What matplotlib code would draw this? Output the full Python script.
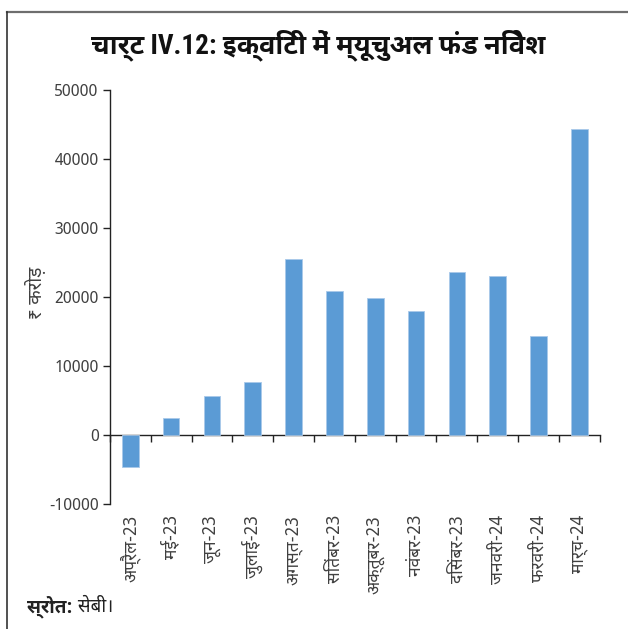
import matplotlib
matplotlib.use("Agg")
import matplotlib.pyplot as plt
from matplotlib.lines import Line2D

# data (₹ crore)
months = ["अप्रैल-23", "मई-23", "जून-23", "जुलाई-23", "अगस्त-23", "सितंबर-23",
          "अक्तूबर-23", "नवंबर-23", "दिसंबर-23", "जनवरी-24", "फरवरी-24", "मार्च-24"]
inflows = [-4600, 2400, 5650, 7650, 25500, 20850, 19850, 18000, 23600, 23050, 14300, 44300]
yticks = [-10000, 0, 10000, 20000, 30000, 40000, 50000]

title = "चार्ट IV.12: इक्विटी में म्यूचुअल फंड निवेश"
ylabel = "₹ करोड़"
source_bold = "स्रोत:"
source_rest = " सेबी।"

FONT = ["Noto Sans Devanagari", "Noto Sans", "DejaVu Sans"]
# Latin part of the title in a condensed bold, Devanagari falls through to the UI font
FONT_BOLD = ["Roboto Condensed", "Roboto", "Noto Sans Devanagari UI", "DejaVu Sans"]
plt.rcParams["font.family"] = FONT

BAR = "#5b9bd5"
TXT = "#404040"

fig = plt.figure(figsize=(6.28, 6.29), dpi=100)
ax = fig.add_axes([0.175, 0.199, 0.780, 0.658])

x = list(range(len(months)))
ax.bar(x, inflows, width=0.41, color=BAR, edgecolor="#a9c9ea", linewidth=0.6, zorder=3)

ax.set_xlim(-0.5, len(months) - 0.5)
ax.set_ylim(yticks[0], yticks[-1])
ax.set_yticks(yticks)
ax.set_yticklabels([str(v) for v in yticks])
ax.tick_params(axis="y", direction="out", length=5, width=1, color="#222222",
               labelsize=11.5, labelcolor=TXT, pad=3)

# category labels hang below the -10000 line
ax.set_xticks(x)
ax.set_xticklabels(months, rotation=90, fontsize=12.5, color=TXT)
ax.tick_params(axis="x", length=0, pad=8)

for s in ("top", "right", "bottom"):
    ax.spines[s].set_visible(False)
ax.spines["left"].set_color("#222222")
ax.spines["left"].set_linewidth(1)

# zero line with ticks between categories
zero_frac = (0 - yticks[0]) / (yticks[-1] - yticks[0])
sec = ax.secondary_xaxis(zero_frac)
sec.set_xticks([i - 0.5 for i in range(len(months) + 1)])
sec.tick_params(direction="out", length=5, width=1, color="#222222", labelbottom=False)
sec.spines["bottom"].set_color("#222222")
sec.spines["bottom"].set_linewidth(1)

ax.set_ylabel(ylabel, fontsize=13.5, color=TXT)
ax.yaxis.set_label_coords(-0.13, 0.51)

fig.text(0.506, 0.928, title, ha="center", va="center", fontsize=19.5,
         fontweight="bold", family=FONT_BOLD, color="#111111")

t1 = fig.text(0.043, 0.035, source_bold, ha="left", va="center", fontsize=13.5,
              fontweight="bold", family=["Noto Sans Devanagari UI", "DejaVu Sans"],
              color="#222222")
ax.annotate(source_rest, xy=(1, 0.5), xycoords=t1, ha="left", va="center",
            fontsize=13.5, color="#222222", annotation_clip=False)

# frame lines (top and left edges)
fig.add_artist(Line2D([0.011, 1.0], [0.981, 0.981], transform=fig.transFigure,
                      color="#6e6e6e", linewidth=1.6))
fig.add_artist(Line2D([0.011, 0.011], [0.0, 0.981], transform=fig.transFigure,
                      color="#333333", linewidth=1.2))

fig.savefig("out.png", dpi=100)
